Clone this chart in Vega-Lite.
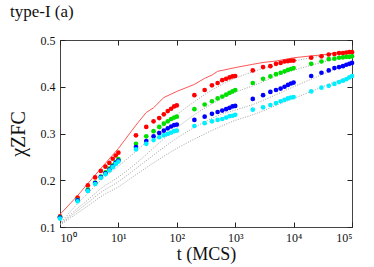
{
  "$schema": "https://vega.github.io/schema/vega-lite/v6.json",
  "width": 292,
  "height": 187,
  "autosize": "none",
  "padding": {"left": 60, "top": 40, "right": 22, "bottom": 40},
  "background": "white",
  "config": {
    "view": {"stroke": "#444", "strokeWidth": 1},
    "axis": {"grid": false, "zindex": 1, "labelFont": "Liberation Serif", "titleFont": "Liberation Serif", "labelColor": "#111", "titleColor": "#111", "domain": false, "tickColor": "#222", "labelFontSize": 12, "titleFontWeight": "normal"}
  },
  "title": {"text": "type-I (a)", "anchor": "start", "frame": "group", "dx": -50, "offset": 13, "fontSize": 17, "fontWeight": "normal", "font": "Liberation Serif", "color": "#111"},
  "datasets": {
    "pts": [
      {"t":1,"v":0.123,"s":"a"},{"t":2,"v":0.163,"s":"a"},{"t":3,"v":0.189,"s":"a"},{"t":4,"v":0.206,"s":"a"},{"t":5,"v":0.22,"s":"a"},{"t":6,"v":0.229,"s":"a"},{"t":7,"v":0.237,"s":"a"},{"t":8,"v":0.246,"s":"a"},{"t":9,"v":0.253,"s":"a"},{"t":10,"v":0.259,"s":"a"},
      {"t":20,"v":0.296,"s":"a"},{"t":30,"v":0.314,"s":"a"},{"t":40,"v":0.326,"s":"a"},{"t":50,"v":0.333,"s":"a"},{"t":60,"v":0.341,"s":"a"},{"t":70,"v":0.348,"s":"a"},{"t":80,"v":0.353,"s":"a"},{"t":90,"v":0.358,"s":"a"},{"t":100,"v":0.36,"s":"a"},
      {"t":200,"v":0.382,"s":"a"},{"t":300,"v":0.393,"s":"a"},{"t":400,"v":0.403,"s":"a"},{"t":500,"v":0.408,"s":"a"},{"t":600,"v":0.414,"s":"a"},{"t":700,"v":0.417,"s":"a"},{"t":800,"v":0.42,"s":"a"},{"t":900,"v":0.422,"s":"a"},{"t":1000,"v":0.423,"s":"a"},
      {"t":2000,"v":0.435,"s":"a"},{"t":3000,"v":0.442,"s":"a"},{"t":4000,"v":0.444,"s":"a"},{"t":5000,"v":0.449,"s":"a"},{"t":6000,"v":0.451,"s":"a"},{"t":7000,"v":0.454,"s":"a"},{"t":8000,"v":0.455,"s":"a"},{"t":9000,"v":0.456,"s":"a"},{"t":10000,"v":0.456,"s":"a"},
      {"t":20000,"v":0.462,"s":"a"},{"t":30000,"v":0.465,"s":"a"},{"t":40000,"v":0.469,"s":"a"},{"t":50000,"v":0.47,"s":"a"},{"t":60000,"v":0.472,"s":"a"},{"t":70000,"v":0.472,"s":"a"},{"t":80000,"v":0.473,"s":"a"},{"t":90000,"v":0.474,"s":"a"},{"t":100000,"v":0.474,"s":"a"},

      {"t":1,"v":0.121,"s":"b"},{"t":2,"v":0.158,"s":"b"},{"t":3,"v":0.18,"s":"b"},{"t":4,"v":0.195,"s":"b"},{"t":5,"v":0.208,"s":"b"},{"t":6,"v":0.217,"s":"b"},{"t":7,"v":0.225,"s":"b"},{"t":8,"v":0.232,"s":"b"},{"t":9,"v":0.239,"s":"b"},{"t":10,"v":0.245,"s":"b"},
      {"t":20,"v":0.278,"s":"b"},{"t":30,"v":0.294,"s":"b"},{"t":40,"v":0.305,"s":"b"},{"t":50,"v":0.314,"s":"b"},{"t":60,"v":0.321,"s":"b"},{"t":70,"v":0.326,"s":"b"},{"t":80,"v":0.331,"s":"b"},{"t":90,"v":0.334,"s":"b"},{"t":100,"v":0.336,"s":"b"},
      {"t":200,"v":0.352,"s":"b"},{"t":300,"v":0.362,"s":"b"},{"t":400,"v":0.369,"s":"b"},{"t":500,"v":0.375,"s":"b"},{"t":600,"v":0.379,"s":"b"},{"t":700,"v":0.383,"s":"b"},{"t":800,"v":0.387,"s":"b"},{"t":900,"v":0.39,"s":"b"},{"t":1000,"v":0.393,"s":"b"},
      {"t":2000,"v":0.408,"s":"b"},{"t":3000,"v":0.417,"s":"b"},{"t":4000,"v":0.422,"s":"b"},{"t":5000,"v":0.427,"s":"b"},{"t":6000,"v":0.43,"s":"b"},{"t":7000,"v":0.433,"s":"b"},{"t":8000,"v":0.436,"s":"b"},{"t":9000,"v":0.438,"s":"b"},{"t":10000,"v":0.44,"s":"b"},
      {"t":20000,"v":0.449,"s":"b"},{"t":30000,"v":0.454,"s":"b"},{"t":40000,"v":0.459,"s":"b"},{"t":50000,"v":0.46,"s":"b"},{"t":60000,"v":0.462,"s":"b"},{"t":70000,"v":0.463,"s":"b"},{"t":80000,"v":0.464,"s":"b"},{"t":90000,"v":0.464,"s":"b"},{"t":100000,"v":0.465,"s":"b"},

      {"t":1,"v":0.12,"s":"c"},{"t":2,"v":0.157,"s":"c"},{"t":3,"v":0.178,"s":"c"},{"t":4,"v":0.194,"s":"c"},{"t":5,"v":0.207,"s":"c"},{"t":6,"v":0.215,"s":"c"},{"t":7,"v":0.223,"s":"c"},{"t":8,"v":0.23,"s":"c"},{"t":9,"v":0.237,"s":"c"},{"t":10,"v":0.242,"s":"c"},
      {"t":20,"v":0.271,"s":"c"},{"t":30,"v":0.284,"s":"c"},{"t":40,"v":0.294,"s":"c"},{"t":50,"v":0.301,"s":"c"},{"t":60,"v":0.306,"s":"c"},{"t":70,"v":0.311,"s":"c"},{"t":80,"v":0.315,"s":"c"},{"t":90,"v":0.318,"s":"c"},{"t":100,"v":0.319,"s":"c"},
      {"t":200,"v":0.329,"s":"c"},{"t":300,"v":0.336,"s":"c"},{"t":400,"v":0.342,"s":"c"},{"t":500,"v":0.346,"s":"c"},{"t":600,"v":0.349,"s":"c"},{"t":700,"v":0.352,"s":"c"},{"t":800,"v":0.355,"s":"c"},{"t":900,"v":0.358,"s":"c"},{"t":1000,"v":0.359,"s":"c"},
      {"t":2000,"v":0.374,"s":"c"},{"t":3000,"v":0.382,"s":"c"},{"t":4000,"v":0.389,"s":"c"},{"t":5000,"v":0.393,"s":"c"},{"t":6000,"v":0.396,"s":"c"},{"t":7000,"v":0.4,"s":"c"},{"t":8000,"v":0.404,"s":"c"},{"t":9000,"v":0.407,"s":"c"},{"t":10000,"v":0.409,"s":"c"},
      {"t":20000,"v":0.423,"s":"c"},{"t":30000,"v":0.43,"s":"c"},{"t":40000,"v":0.435,"s":"c"},{"t":50000,"v":0.44,"s":"c"},{"t":60000,"v":0.442,"s":"c"},{"t":70000,"v":0.444,"s":"c"},{"t":80000,"v":0.447,"s":"c"},{"t":90000,"v":0.449,"s":"c"},{"t":100000,"v":0.451,"s":"c"},

      {"t":1,"v":0.118,"s":"d"},{"t":2,"v":0.155,"s":"d"},{"t":3,"v":0.177,"s":"d"},{"t":4,"v":0.192,"s":"d"},{"t":5,"v":0.205,"s":"d"},{"t":6,"v":0.213,"s":"d"},{"t":7,"v":0.221,"s":"d"},{"t":8,"v":0.228,"s":"d"},{"t":9,"v":0.235,"s":"d"},{"t":10,"v":0.24,"s":"d"},
      {"t":20,"v":0.266,"s":"d"},{"t":30,"v":0.278,"s":"d"},{"t":40,"v":0.286,"s":"d"},{"t":50,"v":0.292,"s":"d"},{"t":60,"v":0.296,"s":"d"},{"t":70,"v":0.299,"s":"d"},{"t":80,"v":0.302,"s":"d"},{"t":90,"v":0.305,"s":"d"},{"t":100,"v":0.306,"s":"d"},
      {"t":200,"v":0.316,"s":"d"},{"t":300,"v":0.322,"s":"d"},{"t":400,"v":0.326,"s":"d"},{"t":500,"v":0.329,"s":"d"},{"t":600,"v":0.331,"s":"d"},{"t":700,"v":0.334,"s":"d"},{"t":800,"v":0.337,"s":"d"},{"t":900,"v":0.338,"s":"d"},{"t":1000,"v":0.34,"s":"d"},
      {"t":2000,"v":0.351,"s":"d"},{"t":3000,"v":0.356,"s":"d"},{"t":4000,"v":0.361,"s":"d"},{"t":5000,"v":0.365,"s":"d"},{"t":6000,"v":0.369,"s":"d"},{"t":7000,"v":0.372,"s":"d"},{"t":8000,"v":0.375,"s":"d"},{"t":9000,"v":0.377,"s":"d"},{"t":10000,"v":0.378,"s":"d"},
      {"t":20000,"v":0.39,"s":"d"},{"t":30000,"v":0.398,"s":"d"},{"t":40000,"v":0.402,"s":"d"},{"t":50000,"v":0.406,"s":"d"},{"t":60000,"v":0.41,"s":"d"},{"t":70000,"v":0.413,"s":"d"},{"t":80000,"v":0.416,"s":"d"},{"t":90000,"v":0.42,"s":"d"},{"t":100000,"v":0.423,"s":"d"}
    ],
    "dots": [
      {"t":1,"v":0.107,"c":"D1"},{"t":2,"v":0.15,"c":"D1"},{"t":3,"v":0.172,"c":"D1"},{"t":5,"v":0.2,"c":"D1"},{"t":10,"v":0.23,"c":"D1"},{"t":20,"v":0.262,"c":"D1"},{"t":50,"v":0.308,"c":"D1"},{"t":100,"v":0.34,"c":"D1"},{"t":200,"v":0.368,"c":"D1"},{"t":500,"v":0.4,"c":"D1"},{"t":1000,"v":0.418,"c":"D1"},{"t":2000,"v":0.432,"c":"D1"},{"t":5000,"v":0.447,"c":"D1"},{"t":10000,"v":0.455,"c":"D1"},{"t":20000,"v":0.462,"c":"D1"},{"t":50000,"v":0.47,"c":"D1"},{"t":100000,"v":0.474,"c":"D1"},
      {"t":1,"v":0.106,"c":"D2"},{"t":2,"v":0.14,"c":"D2"},{"t":3,"v":0.158,"c":"D2"},{"t":5,"v":0.182,"c":"D2"},{"t":10,"v":0.207,"c":"D2"},{"t":20,"v":0.236,"c":"D2"},{"t":50,"v":0.28,"c":"D2"},{"t":100,"v":0.312,"c":"D2"},{"t":200,"v":0.34,"c":"D2"},{"t":500,"v":0.37,"c":"D2"},{"t":1000,"v":0.388,"c":"D2"},{"t":2000,"v":0.402,"c":"D2"},{"t":5000,"v":0.422,"c":"D2"},{"t":10000,"v":0.435,"c":"D2"},{"t":20000,"v":0.446,"c":"D2"},{"t":50000,"v":0.459,"c":"D2"},{"t":100000,"v":0.467,"c":"D2"},
      {"t":1,"v":0.105,"c":"D3"},{"t":2,"v":0.135,"c":"D3"},{"t":3,"v":0.152,"c":"D3"},{"t":5,"v":0.174,"c":"D3"},{"t":10,"v":0.197,"c":"D3"},{"t":20,"v":0.225,"c":"D3"},{"t":50,"v":0.263,"c":"D3"},{"t":100,"v":0.29,"c":"D3"},{"t":200,"v":0.313,"c":"D3"},{"t":500,"v":0.338,"c":"D3"},{"t":1000,"v":0.35,"c":"D3"},{"t":2000,"v":0.362,"c":"D3"},{"t":5000,"v":0.383,"c":"D3"},{"t":10000,"v":0.4,"c":"D3"},{"t":20000,"v":0.416,"c":"D3"},{"t":50000,"v":0.437,"c":"D3"},{"t":100000,"v":0.45,"c":"D3"},
      {"t":1,"v":0.104,"c":"D4"},{"t":2,"v":0.13,"c":"D4"},{"t":3,"v":0.145,"c":"D4"},{"t":5,"v":0.165,"c":"D4"},{"t":10,"v":0.186,"c":"D4"},{"t":20,"v":0.212,"c":"D4"},{"t":50,"v":0.245,"c":"D4"},{"t":100,"v":0.268,"c":"D4"},{"t":200,"v":0.288,"c":"D4"},{"t":500,"v":0.312,"c":"D4"},{"t":1000,"v":0.328,"c":"D4"},{"t":2000,"v":0.34,"c":"D4"},{"t":5000,"v":0.36,"c":"D4"},{"t":10000,"v":0.375,"c":"D4"},{"t":20000,"v":0.39,"c":"D4"},{"t":50000,"v":0.41,"c":"D4"},{"t":100000,"v":0.424,"c":"D4"}
    ],
    "redline": [
      {"t":1,"v":0.127},{"t":2,"v":0.167},{"t":3,"v":0.193},{"t":5,"v":0.225},{"t":10,"v":0.268},{"t":20,"v":0.318},{"t":30,"v":0.345},{"t":40,"v":0.355},{"t":60,"v":0.377},{"t":100,"v":0.39},{"t":200,"v":0.405},{"t":300,"v":0.418},{"t":400,"v":0.425},{"t":500,"v":0.433},{"t":600,"v":0.435},{"t":1000,"v":0.441},{"t":2000,"v":0.448},{"t":3000,"v":0.452},{"t":5000,"v":0.455},{"t":10000,"v":0.462},{"t":20000,"v":0.466},{"t":30000,"v":0.468},{"t":50000,"v":0.472},{"t":100000,"v":0.476}
    ]
  },
  "layer": [
    {
      "data": {"name": "dots"},
      "mark": {"type": "line", "color": "#8a8a8a", "strokeWidth": 0.8, "strokeDash": [1, 1.5], "interpolate": "monotone", "clip": true},
      "encoding": {
        "x": {"field": "t", "type": "quantitative", "scale": {"type": "log", "domain": [1, 100000], "nice": false},
          "axis": {"orient": "top", "labels": false, "title": null, "values": [1, 10, 100, 1000, 10000, 100000], "tickSize": 5, "offset": -5}},
        "y": {"field": "v", "type": "quantitative", "scale": {"domain": [0.1, 0.5], "nice": false, "zero": false},
          "axis": {"orient": "right", "labels": false, "title": null, "values": [0.1, 0.2, 0.3, 0.4, 0.5], "tickSize": 5, "offset": -5}},
        "detail": {"field": "c"}
      }
    },
    {
      "data": {"name": "redline"},
      "mark": {"type": "line", "color": "#ff5555", "strokeWidth": 1, "clip": true},
      "encoding": {
        "x": {"field": "t", "type": "quantitative", "axis": null},
        "y": {"field": "v", "type": "quantitative", "axis": null}
      }
    },
    {
      "data": {"name": "pts"},
      "mark": {"type": "circle", "size": 22, "opacity": 1},
      "encoding": {
        "x": {"field": "t", "type": "quantitative",
          "axis": {"orient": "bottom", "title": "t (MCS)", "titleFontSize": 18, "titlePadding": 2, "values": [1, 10, 100, 1000, 10000, 100000], "tickSize": 5, "offset": -5, "labelPadding": 5,
            "labelExpr": "'10' + (datum.value == 1 ? '⁰' : datum.value == 10 ? '¹' : datum.value == 100 ? '²' : datum.value == 1000 ? '³' : datum.value == 10000 ? '⁴' : '⁵')"}},
        "y": {"field": "v", "type": "quantitative",
          "axis": {"orient": "left", "title": "χZFC", "titleFontSize": 20, "titlePadding": 12, "values": [0.1, 0.2, 0.3, 0.4, 0.5], "format": ".1f", "tickSize": 5, "offset": -5, "labelPadding": 5}},
        "color": {"field": "s", "type": "nominal", "legend": null,
          "scale": {"domain": ["a", "b", "c", "d"], "range": ["#ff0000", "#00e000", "#0000ff", "#00eeff"]}}
      }
    }
  ],
  "resolve": {"axis": {"x": "independent", "y": "independent"}}
}
